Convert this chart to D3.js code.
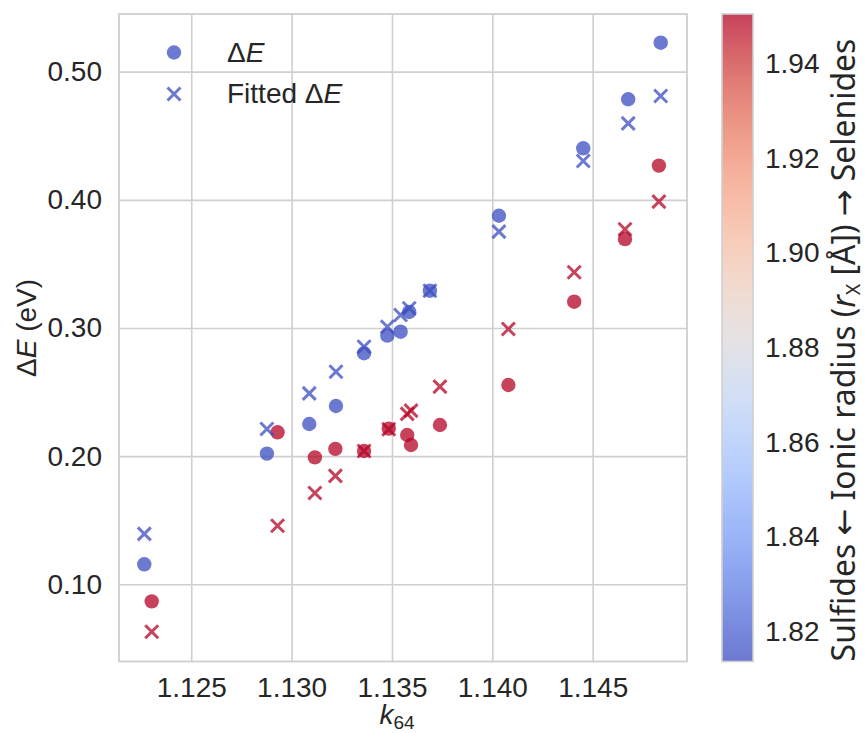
<!DOCTYPE html>
<html>
<head>
<meta charset="utf-8">
<script src="https://cdn.jsdelivr.net/npm/d3@7"></script>
<style>
  body { margin: 0; background: #fff; }
  text { font-family: "Liberation Sans", Arial, sans-serif; fill: #262626; }
</style>
</head>
<body>
<svg id="chart" width="867" height="733"></svg>
<script>
// k64 descriptor, computed and fitted gap (eV), anion ionic radius (Å)
const k64 = [
  1.12266, 1.12877, 1.13088, 1.13221, 1.13361, 1.13477, 1.13543, 1.13586, 1.13689, 1.14033, 1.14453, 1.14677, 1.14839,
  1.12303, 1.12930, 1.13116, 1.13218, 1.13361, 1.13484, 1.13576, 1.13595, 1.13739, 1.14080, 1.14408, 1.14661, 1.14830
];
const deltaE = [
  0.1156, 0.2020, 0.2251, 0.2391, 0.2803, 0.2940, 0.2971, 0.3125, 0.3291, 0.3876, 0.4402, 0.4785, 0.5226,
  0.0867, 0.2186, 0.1990, 0.2057, 0.2040, 0.2215, 0.2165, 0.2087, 0.2243, 0.2555, 0.3205, 0.3694, 0.4267
];
const fittedE = [
  0.1393, 0.2212, 0.2490, 0.2659, 0.2854, 0.3010, 0.3101, 0.3154, 0.3291, 0.3752, 0.4303, 0.4597, 0.4810,
  0.0630, 0.1457, 0.1712, 0.1846, 0.2040, 0.2210, 0.2330, 0.2355, 0.2542, 0.2992, 0.3435, 0.3770, 0.3986
];
const ionicRadius = [
  1.8136, 1.8136, 1.8136, 1.8136, 1.8136, 1.8136, 1.8136, 1.8136, 1.8136, 1.8136, 1.8136, 1.8136, 1.8136,
  1.9504, 1.9504, 1.9504, 1.9504, 1.9504, 1.9504, 1.9504, 1.9504, 1.9504, 1.9504, 1.9504, 1.9504, 1.9504
];

const xTicks = [1.125, 1.130, 1.135, 1.140, 1.145];
const yTicks = [0.10, 0.20, 0.30, 0.40, 0.50];
const cbTicks = [1.82, 1.84, 1.86, 1.88, 1.90, 1.92, 1.94];
const coolwarm = ["#3b4cc0", "#5977e3", "#7b9ff9", "#9ebeff", "#c0d4f5", "#dddcdc",
                  "#f2cbb7", "#f7ac8e", "#ee8468", "#d65244", "#b40426"];

const svg = d3.select("#chart");
const plotL = 119, plotR = 687, plotT = 14, plotB = 661.5;
const alpha = 0.75;
const fs = "28px";

const x = d3.scaleLinear().domain([1.12140, 1.14970]).range([plotL, plotR]);
const y = d3.scaleLinear().domain([0.03976, 0.5450]).range([plotB, plotT]);
const color = d3.scaleSequential(d3.interpolateRgbBasis(coolwarm))
  .domain(d3.extent(ionicRadius));

const points = k64.map((k, i) => ({k, e: deltaE[i], f: fittedE[i], r: ionicRadius[i]}));

// grid
svg.append("g").attr("transform", `translate(0,${plotB})`)
  .call(d3.axisBottom(x).tickValues(xTicks).tickSize(-(plotB - plotT)).tickFormat(d3.format(".3f")))
  .call(g => g.select(".domain").remove())
  .call(g => g.selectAll(".tick line").attr("stroke", "#cfcfcf").attr("stroke-width", 1.6))
  .call(g => g.selectAll(".tick text").attr("y", 16).attr("dy", "0.71em")
    .style("font-size", fs).attr("fill", "#262626"));

svg.append("g").attr("transform", `translate(${plotL},0)`)
  .call(d3.axisLeft(y).tickValues(yTicks).tickSize(-(plotR - plotL)).tickFormat(d3.format(".2f")))
  .call(g => g.select(".domain").remove())
  .call(g => g.selectAll(".tick line").attr("stroke", "#cfcfcf").attr("stroke-width", 1.6))
  .call(g => g.selectAll(".tick text").attr("x", -17)
    .style("font-size", fs).attr("fill", "#262626"));

svg.append("rect")
  .attr("x", plotL).attr("y", plotT)
  .attr("width", plotR - plotL).attr("height", plotB - plotT)
  .attr("fill", "none").attr("stroke", "#cfcfcf").attr("stroke-width", 1.8);

// measured gap
svg.append("g").selectAll("circle")
  .data(points)
  .join("circle")
  .attr("cx", d => x(d.k))
  .attr("cy", d => y(d.e))
  .attr("r", 7.2)
  .attr("fill", d => color(d.r))
  .attr("fill-opacity", alpha);

// fitted gap
const cross = "M-6.5,-6.5L6.5,6.5M-6.5,6.5L6.5,-6.5";
svg.append("g").selectAll("path")
  .data(points)
  .join("path")
  .attr("transform", d => `translate(${x(d.k)},${y(d.f)})`)
  .attr("d", cross)
  .attr("fill", "none")
  .attr("stroke", d => color(d.r))
  .attr("stroke-opacity", alpha)
  .attr("stroke-width", 3);

// axis labels
const xl = svg.append("text")
  .attr("x", (plotL + plotR) / 2 - 6).attr("y", 724)
  .attr("text-anchor", "middle").style("font-size", fs);
xl.append("tspan").style("font-style", "italic").text("k");
xl.append("tspan").attr("dy", 5).style("font-size", "19px").text("64");

const yl = svg.append("text")
  .attr("transform", `translate(36,328) rotate(-90)`)
  .attr("text-anchor", "middle").style("font-size", fs);
yl.append("tspan").text("Δ");
yl.append("tspan").style("font-style", "italic").text("E");
yl.append("tspan").text(" (eV)");

// legend
const legColor = color(d3.min(ionicRadius));
const leg = svg.append("g");
leg.append("circle").attr("cx", 174).attr("cy", 52.5).attr("r", 7.2)
  .attr("fill", legColor).attr("fill-opacity", alpha);
leg.append("path").attr("transform", "translate(174,94)").attr("d", cross)
  .attr("stroke", legColor).attr("stroke-opacity", alpha).attr("stroke-width", 3);
const l1 = leg.append("text").attr("x", 227).attr("y", 62).style("font-size", fs);
l1.append("tspan").text("Δ");
l1.append("tspan").style("font-style", "italic").text("E");
const l2 = leg.append("text").attr("x", 227).attr("y", 103).style("font-size", fs);
l2.append("tspan").text("Fitted Δ");
l2.append("tspan").style("font-style", "italic").text("E");

// colorbar
const cbX = 722, cbW = 31;
const cbY = d3.scaleLinear().domain(color.domain()).range([plotB, plotT]);
const grad = svg.append("defs").append("linearGradient")
  .attr("id", "cb").attr("x1", 0).attr("y1", 1).attr("x2", 0).attr("y2", 0);
grad.selectAll("stop")
  .data(d3.range(0, 1.0001, 0.05))
  .join("stop")
  .attr("offset", d => d)
  .attr("stop-color", d => d3.interpolateRgbBasis(coolwarm)(d));
svg.append("rect")
  .attr("x", cbX).attr("y", plotT).attr("width", cbW).attr("height", plotB - plotT)
  .attr("fill", "url(#cb)").attr("fill-opacity", alpha)
  .attr("stroke", "#cfcfcf").attr("stroke-width", 1.6);

svg.append("g").selectAll("text")
  .data(cbTicks)
  .join("text")
  .attr("x", cbX + cbW + 12)
  .attr("y", d => cbY(d))
  .attr("dy", "0.35em")
  .style("font-size", fs)
  .text(d => d3.format(".2f")(d));

const cl = svg.append("text")
  .attr("transform", `translate(855,350) rotate(-90)`)
  .attr("text-anchor", "middle")
  .style("font-family", "'Noto Sans', 'DejaVu Sans', sans-serif")
  .style("font-size", "27px");
cl.append("tspan").text("Sulfides ← Ionic radius (");
cl.append("tspan").style("font-style", "italic").text("r");
cl.append("tspan").attr("dy", 5).style("font-size", "19px").text("X");
cl.append("tspan").attr("dy", -5).text(" [Å]) → Selenides");
// fit the rotated label to the span it takes in the figure
const clLen = cl.node().getComputedTextLength();
cl.style("font-size", (27 * 625 / clLen).toFixed(2) + "px");
</script>
</body>
</html>
